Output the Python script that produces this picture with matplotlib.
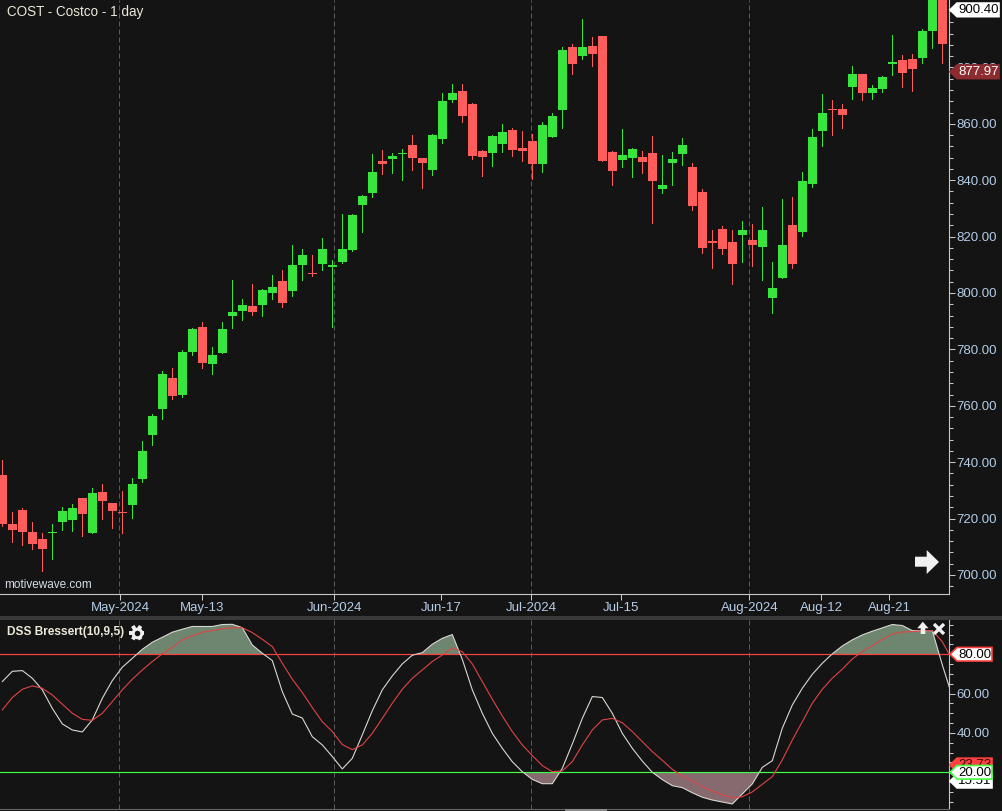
import numpy as np
import matplotlib
matplotlib.use("Agg")
from matplotlib import pyplot as plt
from matplotlib.patches import Polygon
from matplotlib.ticker import MultipleLocator

plt.rcParams['font.family'] = ['Liberation Sans', 'DejaVu Sans']

BG = "#141414"
GREEN = "#38e53c"
RED = "#ff5c5c"
AXIS = "#c8c8c8"
TICK_TEXT = "#b4cce6"

opens = [735.4, 718.1, 723.0, 715.2, 712.7, 714.8, 718.8, 719.5, 727.3, 714.9,
         729.4, 725.5, 722.5, 724.8, 734.0, 749.6, 758.8, 769.8, 763.8, 779.1,
         787.9, 774.8, 778.7, 791.8, 793.6, 795.4, 795.7, 800.0, 804.3, 800.7,
         809.9, 807.2, 810.3, 809.3, 811.1, 815.2, 831.2, 835.5, 846.8, 847.5,
         849.2, 852.5, 847.9, 843.6, 854.6, 868.4, 871.6, 867.0, 850.3, 849.6,
         852.8, 857.8, 851.4, 853.9, 845.7, 855.3, 864.9, 887.2, 884.0, 887.6,
         891.1, 850.0, 847.2, 847.9, 848.2, 849.6, 836.9, 846.1, 849.3, 844.7,
         835.8, 818.3, 822.7, 818.1, 820.6, 818.8, 816.3, 798.2, 805.3, 824.1,
         821.6, 838.7, 857.4, 865.4, 865.2, 873.0, 877.7, 870.9, 872.3, 881.3,
         882.6, 883.0, 883.3, 892.9, 908.0]
closes = [718.2, 715.9, 715.2, 711.0, 709.2, 715.4, 722.7, 723.7, 721.6, 729.1,
          726.2, 722.7, 722.0, 732.3, 743.9, 756.4, 771.3, 763.5, 779.1, 787.2,
          775.2, 778.0, 787.2, 793.2, 795.7, 793.2, 801.1, 802.1, 796.4, 809.9,
          813.5, 806.7, 815.6, 809.9, 815.6, 827.6, 834.4, 842.9, 845.7, 848.6,
          849.8, 847.9, 846.1, 856.0, 868.1, 870.9, 862.8, 848.6, 848.2, 855.7,
          857.1, 850.7, 850.3, 845.7, 859.6, 862.8, 886.2, 881.2, 887.2, 884.7,
          846.8, 843.3, 848.9, 851.1, 846.4, 839.7, 838.3, 847.5, 852.5, 830.9,
          816.0, 817.7, 815.6, 810.3, 822.3, 817.0, 822.3, 801.8, 817.0, 810.3,
          839.7, 855.3, 863.8, 864.8, 863.1, 877.7, 870.9, 872.7, 876.6, 881.9,
          878.0, 879.4, 892.9, 908.0, 888.3]
highs = [740.8, 722.3, 723.7, 718.8, 714.9, 718.1, 724.1, 725.2, 727.3, 730.8,
         732.3, 725.5, 729.8, 734.4, 747.5, 757.1, 772.3, 773.4, 779.8, 787.6,
         789.7, 780.8, 789.7, 804.6, 797.9, 803.2, 801.4, 806.4, 808.2, 817.0,
         815.6, 813.5, 819.5, 811.7, 828.0, 828.0, 834.7, 849.3, 850.7, 849.6,
         851.1, 856.0, 847.9, 856.4, 870.9, 874.1, 874.1, 867.4, 850.7, 856.0,
         859.9, 858.5, 857.4, 856.4, 860.6, 863.8, 887.2, 888.3, 897.2, 890.8,
         891.1, 850.3, 858.1, 851.4, 850.3, 855.7, 848.9, 850.0, 855.0, 846.1,
         836.9, 822.3, 823.8, 822.3, 825.5, 824.5, 830.5, 811.0, 833.3, 834.0,
         842.9, 858.2, 870.6, 868.4, 867.0, 880.5, 877.7, 873.8, 876.9, 891.5,
         884.4, 884.8, 893.6, 908.0, 908.0]
lows = [717.4, 711.7, 710.6, 709.2, 701.4, 705.7, 715.9, 715.6, 713.8, 714.9,
        719.8, 716.6, 714.9, 720.2, 733.0, 746.1, 755.3, 762.4, 763.1, 778.0,
        773.4, 771.3, 778.7, 787.6, 790.4, 792.2, 791.8, 797.9, 795.0, 798.9,
        804.6, 806.0, 808.2, 787.9, 810.5, 814.8, 821.6, 834.0, 842.2, 842.5,
        840.1, 843.6, 837.2, 841.8, 853.2, 867.7, 860.6, 847.5, 841.5, 845.0,
        850.0, 848.6, 846.8, 840.4, 842.9, 855.3, 858.5, 877.7, 883.0, 880.5,
        846.8, 838.3, 844.7, 841.1, 842.5, 824.8, 835.5, 838.3, 845.4, 829.4,
        814.2, 808.9, 813.8, 803.2, 811.0, 809.6, 804.6, 792.9, 805.3, 808.9,
        820.2, 837.6, 852.1, 856.0, 858.5, 868.8, 868.4, 868.8, 871.3, 877.3,
        873.0, 871.6, 881.6, 886.9, 881.6]

dss_white = [66.1, 71.3, 71.7, 67.8, 61.9, 52.5, 44.6, 41.5, 40.5, 46.6,
             57.6, 66.6, 73.4, 77.9, 82.5, 86.1, 88.6, 91.2, 92.7, 94.1,
             94.1, 94.1, 95.1, 95.2, 93.5, 84.7, 80.5, 76.8, 61.0, 49.6,
             47.6, 38.1, 33.9, 28.0, 21.7, 27.1, 39.0, 51.3, 61.9, 69.0,
             75.1, 79.5, 80.8, 85.1, 88.1, 90.0, 77.4, 61.9, 50.0, 39.8,
             32.2, 25.4, 20.3, 16.4, 14.2, 14.2, 22.0, 34.4, 47.4, 58.5,
             58.0, 50.0, 39.8, 32.2, 25.7, 20.0, 16.3, 13.2, 12.2, 9.6,
             7.3, 5.9, 4.9, 3.9, 9.0, 14.1, 22.5, 25.9, 42.4, 54.2,
             62.7, 69.8, 75.4, 80.2, 84.2, 87.3, 89.8, 91.7, 93.4, 95.1,
             94.6, 92.0, 92.0, 92.0, 74.6, 58.5]
dss_red = [51.7, 58.0, 62.2, 63.9, 62.7, 59.3, 54.6, 50.0, 46.9, 46.4,
           50.0, 55.9, 61.9, 67.3, 72.0, 76.3, 80.2, 83.5, 87.3, 89.3,
           91.2, 92.0, 93.0, 93.5, 93.5, 91.0, 87.6, 83.9, 75.4, 67.3,
           60.5, 52.9, 45.7, 40.7, 34.1, 31.5, 33.9, 39.8, 47.4, 55.1,
           62.2, 67.8, 72.0, 76.3, 79.6, 83.2, 81.3, 75.1, 66.1, 57.1,
           48.6, 40.7, 33.9, 28.5, 23.4, 20.3, 20.7, 25.4, 33.9, 41.5,
           46.6, 47.4, 45.2, 40.7, 35.6, 30.5, 26.1, 21.5, 18.1, 15.7,
           12.7, 10.5, 8.5, 7.0, 7.6, 10.0, 13.9, 17.8, 26.3, 36.4,
           45.7, 55.1, 62.2, 67.8, 72.4, 77.6, 81.3, 84.4, 87.6, 90.3,
           91.3, 91.5, 92.0, 92.0, 86.4, 77.1]

date_ticks = [11.8, 20.0, 33.2, 43.9, 52.9, 61.9, 74.7, 81.9, 88.7]
date_labels = ["May-2024", "May-13", "Jun-2024", "Jun-17", "Jul-2024", "Jul-15",
               "Aug-2024", "Aug-12", "Aug-21"]
month_starts = [11.7, 33.2, 52.9, 74.7]

price_ticks = [700, 720, 740, 760, 780, 800, 820, 840, 860, 880, 900]
dss_ticks = [20, 40, 60, 80]

W, H = 1002, 811
fig = plt.figure(figsize=(W / 100, H / 100), dpi=100, facecolor=BG)

# price panel
ax = fig.add_axes([0, (H - 594) / H, 949 / W, 594 / H], facecolor=BG)
ax.set_xlim(-0.23, 94.67)
ax.set_ylim(693.26, 903.9)

x = np.arange(len(opens))
opens = np.array(opens)
closes = np.array(closes)
colors = [GREEN if c >= o else RED for o, c in zip(opens, closes)]
for m in month_starts:
    ax.axvline(m, color="#5a5a5a", lw=0.72, ls=(0, (5, 3)), zorder=1)
ax.vlines(x, lows, highs, colors=colors, lw=0.68, antialiased=False, zorder=2)
ax.bar(x, np.abs(closes - opens), bottom=np.minimum(opens, closes), width=0.9,
       color=colors, linewidth=0, antialiased=False, zorder=3)

ax.yaxis.tick_right()
ax.set_yticks(price_ticks)
ax.set_yticklabels([f"{v:.2f}" if v != 900 else "" for v in price_ticks])
ax.yaxis.set_minor_locator(MultipleLocator(4))
ax.set_xticks(date_ticks)
ax.set_xticklabels(date_labels)
ax.tick_params(axis="both", which="major", colors=AXIS, labelcolor=TICK_TEXT, length=4.6,
               width=0.75, labelsize=9.5, pad=1.0)
ax.tick_params(axis="y", which="minor", colors=AXIS, length=2.9, width=0.75)
for side in ["top", "left"]:
    ax.spines[side].set_visible(False)
for side in ["right", "bottom"]:
    ax.spines[side].set_color(AXIS)
    ax.spines[side].set_linewidth(0.8)

# DSS panel
ax2 = fig.add_axes([0, (H - 809) / H, 949 / W, 189 / H], facecolor=BG)
ax2.set_xlim(-0.23, 94.67)
ax2.set_ylim(1.34, 97.4)
xd = np.arange(len(dss_white))
white = np.array(dss_white)
for m in month_starts:
    ax2.axvline(m, color="#5a5a5a", lw=0.72, ls=(0, (5, 3)), zorder=1)
ax2.fill_between(xd, 80, white, where=white > 80, interpolate=True, color="#6e8570", lw=0, zorder=2)
ax2.fill_between(xd, 20, white, where=white < 20, interpolate=True, color="#856a70", lw=0, zorder=2)
ax2.axhline(80, color="#ff4040", lw=0.85, zorder=3)
ax2.axhline(20, color="#44ff44", lw=0.85, zorder=3)
ax2.plot(xd, white, color="#d8d8d0", lw=0.8, zorder=4)
ax2.plot(xd, dss_red, color="#e04444", lw=0.8, zorder=5)

ax2.yaxis.tick_right()
ax2.set_yticks(dss_ticks)
ax2.set_yticklabels(["", "40.00", "60.00", ""])
ax2.yaxis.set_minor_locator(MultipleLocator(5))
ax2.set_xticks([])
ax2.tick_params(axis="y", which="major", colors=AXIS, labelcolor=TICK_TEXT, length=4.6,
                width=0.75, labelsize=9.5, pad=1.0)
ax2.tick_params(axis="y", which="minor", colors=AXIS, length=2.9, width=0.75)
for side in ["top", "left"]:
    ax2.spines[side].set_visible(False)
ax2.spines["right"].set_color(AXIS)
ax2.spines["right"].set_linewidth(0.8)
ax2.spines["bottom"].set_color("#666666")

# overlay in pixel coordinates for the window furniture
over = fig.add_axes([0, 0, 1, 1], facecolor="none", zorder=10)
over.set_xlim(0, W)
over.set_ylim(H, 0)
over.axis("off")


def px_y(axis, value):
    return H - axis.transData.transform((0, value))[1]


def tag(axis, value, face, edge, text_color, z, right=999, dy=0):
    y = px_y(axis, value) + dy
    pts = [(950, y), (957, y - 6.8), (right, y - 6.8), (right, y + 6.8), (957, y + 6.8)]
    over.add_patch(Polygon(pts, closed=True, facecolor=face, edgecolor=edge, lw=1.2, zorder=z))
    over.text((957.5 + right) / 2, y + 0.3, f"{value:.2f}", color=text_color, fontsize=9.5,
              ha="center", va="center", zorder=z)


fig.canvas.draw()
over.fill_between([0, W], 616, 620, color="#3a3a3a", lw=0)
over.fill_between([565, 607], 809, 811, color="#8a8a8a", lw=0)

tag(ax, 900.40, "#ffffff", "#ffffff", "#000000", 5)
tag(ax, 877.97, "#8c2b30", "#8c2b30", "#ffffff", 5, dy=-1.3)
tag(ax2, 80.00, "#ffffff", "#ff4040", "#000000", 5, right=992)
tag(ax2, 23.73, "#ff4040", "#ff4040", "#300808", 5, right=992)
tag(ax2, 15.51, "#ffffff", "#ffffff", "#000000", 6, right=992)
tag(ax2, 20.00, "#ffffff", "#44ff44", "#000000", 7, right=992)

over.text(7, 12, "COST - Costco - 1 day", color="#ece8d8", fontsize=9.75, va="center")
over.text(4, 585, "motivewave.com", color="#d4dce4", fontsize=8.5, va="center")
over.text(7.5, 632, "DSS Bressert(10,9,5)", color="#ece8d8", fontsize=8.55, weight="bold", va="center")

# gear, arrows and close button
gear_x, gear_y = 136.7, 632.7
for angle in np.radians([0, 60, 120]):
    dx, dy = 7.8 * np.cos(angle), 7.8 * np.sin(angle)
    over.plot([gear_x - dx, gear_x + dx], [gear_y - dy, gear_y + dy], color="#f0f0f0", lw=2.8,
              solid_capstyle="butt", zorder=5)
over.scatter([gear_x], [gear_y], marker="o", s=70, color="#f0f0f0", lw=0, zorder=5)
over.scatter([gear_x], [gear_y], marker="o", s=16, color=BG, lw=0, zorder=6)
over.add_patch(Polygon([(915, 556.7), (926.7, 556.7), (926.7, 550), (939, 562), (926.7, 574),
                        (926.7, 566.7), (915, 566.7)], closed=True, color="#f0f0f0", lw=0))
over.add_patch(Polygon([(922.8, 621.7), (928.5, 628.3), (925.3, 628.3), (925.3, 634),
                        (920.7, 634), (920.7, 628.3), (917.2, 628.3)], closed=True,
                       color="#f0f0f0", lw=0))
over.plot([934, 944], [624, 634], color="#f0f0f0", lw=2.4, solid_capstyle="butt")
over.plot([934, 944], [634, 624], color="#f0f0f0", lw=2.4, solid_capstyle="butt")

fig.savefig("out.png", dpi=100, facecolor=BG)
